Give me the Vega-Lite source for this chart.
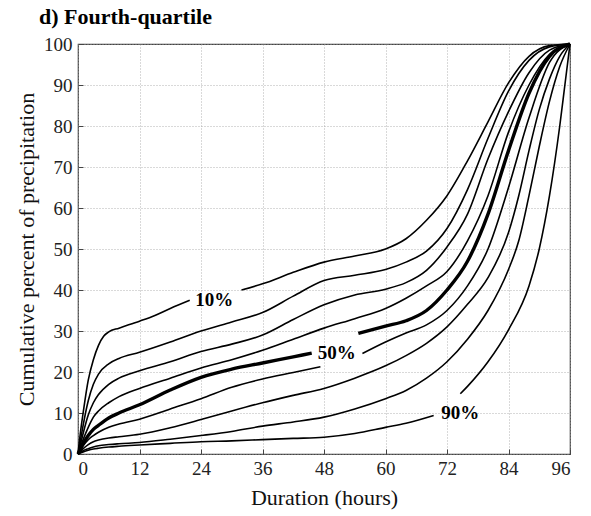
{
  "$schema": "https://vega.github.io/schema/vega-lite/v6.json",
  "width": 492,
  "height": 410,
  "autosize": {"type": "none"},
  "padding": {"left": 78, "top": 44, "right": 21, "bottom": 62},
  "background": "white",
  "title": {
    "text": "d) Fourth-quartile",
    "anchor": "start",
    "frame": "group",
    "dx": -39,
    "offset": 6,
    "font": "Liberation Serif",
    "fontSize": 22,
    "fontWeight": "bold",
    "color": "black"
  },
  "config": {
    "view": {"stroke": "#444", "strokeWidth": 1.2},
    "axis": {
      "domain": false,
      "labelFont": "Liberation Serif",
      "labelFontSize": 19,
      "labelColor": "#222",
      "titleFont": "Liberation Serif",
      "titleFontSize": 22,
      "titleFontWeight": "normal",
      "titleColor": "#111",
      "tickColor": "#444",
      "tickSize": -5,
      "gridColor": "#a0a0a0",
      "gridDash": [1, 2],
      "gridWidth": 0.8
    }
  },
  "datasets": {
    "curves": [
      {"curve": "10%", "seg": "10a", "h": 0, "v": 0},
      {"curve": "10%", "seg": "10a", "h": 0.5, "v": 5.5},
      {"curve": "10%", "seg": "10a", "h": 1, "v": 10},
      {"curve": "10%", "seg": "10a", "h": 2, "v": 18},
      {"curve": "10%", "seg": "10a", "h": 3, "v": 23},
      {"curve": "10%", "seg": "10a", "h": 4, "v": 26.5},
      {"curve": "10%", "seg": "10a", "h": 5, "v": 28.7},
      {"curve": "10%", "seg": "10a", "h": 6, "v": 29.8},
      {"curve": "10%", "seg": "10a", "h": 8, "v": 30.7},
      {"curve": "10%", "seg": "10a", "h": 12, "v": 32.4},
      {"curve": "10%", "seg": "10a", "h": 15, "v": 33.8},
      {"curve": "10%", "seg": "10a", "h": 18, "v": 35.5},
      {"curve": "10%", "seg": "10a", "h": 21.8, "v": 37.5},
      {"curve": "10%", "seg": "10b", "h": 31.9, "v": 40},
      {"curve": "10%", "seg": "10b", "h": 36, "v": 41.5},
      {"curve": "10%", "seg": "10b", "h": 42, "v": 44.3},
      {"curve": "10%", "seg": "10b", "h": 48, "v": 46.8},
      {"curve": "10%", "seg": "10b", "h": 54, "v": 48.3},
      {"curve": "10%", "seg": "10b", "h": 60, "v": 50},
      {"curve": "10%", "seg": "10b", "h": 64, "v": 52.5},
      {"curve": "10%", "seg": "10b", "h": 68, "v": 57},
      {"curve": "10%", "seg": "10b", "h": 72, "v": 63},
      {"curve": "10%", "seg": "10b", "h": 76, "v": 71.5},
      {"curve": "10%", "seg": "10b", "h": 80, "v": 81},
      {"curve": "10%", "seg": "10b", "h": 84, "v": 90.5},
      {"curve": "10%", "seg": "10b", "h": 88, "v": 97},
      {"curve": "10%", "seg": "10b", "h": 92, "v": 99.6},
      {"curve": "10%", "seg": "10b", "h": 96, "v": 100},

      {"curve": "20%", "seg": "20a", "h": 0, "v": 0},
      {"curve": "20%", "seg": "20a", "h": 0.5, "v": 3.5},
      {"curve": "20%", "seg": "20a", "h": 1, "v": 7},
      {"curve": "20%", "seg": "20a", "h": 2, "v": 13},
      {"curve": "20%", "seg": "20a", "h": 3, "v": 17},
      {"curve": "20%", "seg": "20a", "h": 4, "v": 19.5},
      {"curve": "20%", "seg": "20a", "h": 6, "v": 22},
      {"curve": "20%", "seg": "20a", "h": 8, "v": 23.3},
      {"curve": "20%", "seg": "20a", "h": 12, "v": 24.8},
      {"curve": "20%", "seg": "20a", "h": 18, "v": 27.3},
      {"curve": "20%", "seg": "20a", "h": 24, "v": 30},
      {"curve": "20%", "seg": "20a", "h": 30, "v": 32.2},
      {"curve": "20%", "seg": "20a", "h": 36, "v": 34.5},
      {"curve": "20%", "seg": "20a", "h": 42, "v": 38.5},
      {"curve": "20%", "seg": "20a", "h": 48, "v": 42.3},
      {"curve": "20%", "seg": "20a", "h": 54, "v": 43.6},
      {"curve": "20%", "seg": "20a", "h": 60, "v": 45},
      {"curve": "20%", "seg": "20a", "h": 64, "v": 46.8},
      {"curve": "20%", "seg": "20a", "h": 68, "v": 49.5},
      {"curve": "20%", "seg": "20a", "h": 72, "v": 55},
      {"curve": "20%", "seg": "20a", "h": 76, "v": 64.5},
      {"curve": "20%", "seg": "20a", "h": 80, "v": 77},
      {"curve": "20%", "seg": "20a", "h": 84, "v": 88.5},
      {"curve": "20%", "seg": "20a", "h": 88, "v": 96},
      {"curve": "20%", "seg": "20a", "h": 92, "v": 99.3},
      {"curve": "20%", "seg": "20a", "h": 96, "v": 100},

      {"curve": "30%", "seg": "30a", "h": 0, "v": 0},
      {"curve": "30%", "seg": "30a", "h": 0.5, "v": 2.5},
      {"curve": "30%", "seg": "30a", "h": 1, "v": 5},
      {"curve": "30%", "seg": "30a", "h": 2, "v": 9.5},
      {"curve": "30%", "seg": "30a", "h": 3, "v": 12.5},
      {"curve": "30%", "seg": "30a", "h": 4, "v": 14.5},
      {"curve": "30%", "seg": "30a", "h": 6, "v": 17},
      {"curve": "30%", "seg": "30a", "h": 8, "v": 18.5},
      {"curve": "30%", "seg": "30a", "h": 12, "v": 20.3},
      {"curve": "30%", "seg": "30a", "h": 18, "v": 22.5},
      {"curve": "30%", "seg": "30a", "h": 24, "v": 25},
      {"curve": "30%", "seg": "30a", "h": 30, "v": 26.8},
      {"curve": "30%", "seg": "30a", "h": 36, "v": 29},
      {"curve": "30%", "seg": "30a", "h": 42, "v": 32.8},
      {"curve": "30%", "seg": "30a", "h": 48, "v": 36.4},
      {"curve": "30%", "seg": "30a", "h": 54, "v": 38.8},
      {"curve": "30%", "seg": "30a", "h": 60, "v": 40.2},
      {"curve": "30%", "seg": "30a", "h": 64, "v": 41.8},
      {"curve": "30%", "seg": "30a", "h": 68, "v": 44.8},
      {"curve": "30%", "seg": "30a", "h": 72, "v": 50.5},
      {"curve": "30%", "seg": "30a", "h": 76, "v": 58.5},
      {"curve": "30%", "seg": "30a", "h": 80, "v": 72},
      {"curve": "30%", "seg": "30a", "h": 84, "v": 83.5},
      {"curve": "30%", "seg": "30a", "h": 88, "v": 93},
      {"curve": "30%", "seg": "30a", "h": 92, "v": 98.5},
      {"curve": "30%", "seg": "30a", "h": 96, "v": 100},

      {"curve": "40%", "seg": "40a", "h": 0, "v": 0},
      {"curve": "40%", "seg": "40a", "h": 0.5, "v": 1.8},
      {"curve": "40%", "seg": "40a", "h": 1, "v": 3.5},
      {"curve": "40%", "seg": "40a", "h": 2, "v": 6.5},
      {"curve": "40%", "seg": "40a", "h": 3, "v": 9},
      {"curve": "40%", "seg": "40a", "h": 4, "v": 10.5},
      {"curve": "40%", "seg": "40a", "h": 6, "v": 12.5},
      {"curve": "40%", "seg": "40a", "h": 8, "v": 14},
      {"curve": "40%", "seg": "40a", "h": 12, "v": 16},
      {"curve": "40%", "seg": "40a", "h": 18, "v": 18.5},
      {"curve": "40%", "seg": "40a", "h": 24, "v": 21},
      {"curve": "40%", "seg": "40a", "h": 30, "v": 23},
      {"curve": "40%", "seg": "40a", "h": 36, "v": 25.3},
      {"curve": "40%", "seg": "40a", "h": 42, "v": 28},
      {"curve": "40%", "seg": "40a", "h": 48, "v": 30.7},
      {"curve": "40%", "seg": "40a", "h": 54, "v": 33},
      {"curve": "40%", "seg": "40a", "h": 60, "v": 35.5},
      {"curve": "40%", "seg": "40a", "h": 64, "v": 38},
      {"curve": "40%", "seg": "40a", "h": 68, "v": 41},
      {"curve": "40%", "seg": "40a", "h": 72, "v": 44.5},
      {"curve": "40%", "seg": "40a", "h": 76, "v": 52},
      {"curve": "40%", "seg": "40a", "h": 80, "v": 63},
      {"curve": "40%", "seg": "40a", "h": 84, "v": 78.5},
      {"curve": "40%", "seg": "40a", "h": 88, "v": 90},
      {"curve": "40%", "seg": "40a", "h": 92, "v": 97.5},
      {"curve": "40%", "seg": "40a", "h": 96, "v": 100},

      {"curve": "50%", "seg": "50a", "h": 0, "v": 0},
      {"curve": "50%", "seg": "50a", "h": 0.5, "v": 1.3},
      {"curve": "50%", "seg": "50a", "h": 1, "v": 2.5},
      {"curve": "50%", "seg": "50a", "h": 2, "v": 4.5},
      {"curve": "50%", "seg": "50a", "h": 3, "v": 6},
      {"curve": "50%", "seg": "50a", "h": 4, "v": 7},
      {"curve": "50%", "seg": "50a", "h": 6, "v": 8.8},
      {"curve": "50%", "seg": "50a", "h": 8, "v": 10},
      {"curve": "50%", "seg": "50a", "h": 12, "v": 12},
      {"curve": "50%", "seg": "50a", "h": 18, "v": 15.6},
      {"curve": "50%", "seg": "50a", "h": 24, "v": 18.7},
      {"curve": "50%", "seg": "50a", "h": 30, "v": 20.7},
      {"curve": "50%", "seg": "50a", "h": 36, "v": 22.2},
      {"curve": "50%", "seg": "50a", "h": 42, "v": 23.7},
      {"curve": "50%", "seg": "50a", "h": 45.6, "v": 24.6},
      {"curve": "50%", "seg": "50b", "h": 54.7, "v": 29.4},
      {"curve": "50%", "seg": "50b", "h": 60, "v": 31.2},
      {"curve": "50%", "seg": "50b", "h": 64, "v": 32.5},
      {"curve": "50%", "seg": "50b", "h": 68, "v": 35},
      {"curve": "50%", "seg": "50b", "h": 72, "v": 40},
      {"curve": "50%", "seg": "50b", "h": 76, "v": 47},
      {"curve": "50%", "seg": "50b", "h": 80, "v": 58.5},
      {"curve": "50%", "seg": "50b", "h": 84, "v": 74},
      {"curve": "50%", "seg": "50b", "h": 88, "v": 88},
      {"curve": "50%", "seg": "50b", "h": 92, "v": 97},
      {"curve": "50%", "seg": "50b", "h": 96, "v": 100},

      {"curve": "60%", "seg": "60a", "h": 0, "v": 0},
      {"curve": "60%", "seg": "60a", "h": 0.5, "v": 1},
      {"curve": "60%", "seg": "60a", "h": 1, "v": 2},
      {"curve": "60%", "seg": "60a", "h": 2, "v": 3.5},
      {"curve": "60%", "seg": "60a", "h": 3, "v": 4.5},
      {"curve": "60%", "seg": "60a", "h": 4, "v": 5.3},
      {"curve": "60%", "seg": "60a", "h": 6, "v": 6.5},
      {"curve": "60%", "seg": "60a", "h": 8, "v": 7.3},
      {"curve": "60%", "seg": "60a", "h": 12, "v": 8.5},
      {"curve": "60%", "seg": "60a", "h": 18, "v": 11},
      {"curve": "60%", "seg": "60a", "h": 24, "v": 13.5},
      {"curve": "60%", "seg": "60a", "h": 30, "v": 16.3},
      {"curve": "60%", "seg": "60a", "h": 36, "v": 18.3},
      {"curve": "60%", "seg": "60a", "h": 42, "v": 19.9},
      {"curve": "60%", "seg": "60a", "h": 47.3, "v": 21.3},
      {"curve": "60%", "seg": "60b", "h": 55.5, "v": 24.5},
      {"curve": "60%", "seg": "60b", "h": 60, "v": 27.3},
      {"curve": "60%", "seg": "60b", "h": 64, "v": 29.5},
      {"curve": "60%", "seg": "60b", "h": 68, "v": 31.5},
      {"curve": "60%", "seg": "60b", "h": 72, "v": 35},
      {"curve": "60%", "seg": "60b", "h": 76, "v": 41},
      {"curve": "60%", "seg": "60b", "h": 80, "v": 50},
      {"curve": "60%", "seg": "60b", "h": 84, "v": 65},
      {"curve": "60%", "seg": "60b", "h": 88, "v": 82},
      {"curve": "60%", "seg": "60b", "h": 92, "v": 95.5},
      {"curve": "60%", "seg": "60b", "h": 96, "v": 100},

      {"curve": "70%", "seg": "70a", "h": 0, "v": 0},
      {"curve": "70%", "seg": "70a", "h": 0.5, "v": 0.7},
      {"curve": "70%", "seg": "70a", "h": 1, "v": 1.3},
      {"curve": "70%", "seg": "70a", "h": 2, "v": 2.3},
      {"curve": "70%", "seg": "70a", "h": 3, "v": 3},
      {"curve": "70%", "seg": "70a", "h": 4, "v": 3.4},
      {"curve": "70%", "seg": "70a", "h": 6, "v": 3.9},
      {"curve": "70%", "seg": "70a", "h": 8, "v": 4.2},
      {"curve": "70%", "seg": "70a", "h": 12, "v": 4.8},
      {"curve": "70%", "seg": "70a", "h": 18, "v": 6.4},
      {"curve": "70%", "seg": "70a", "h": 24, "v": 8.4},
      {"curve": "70%", "seg": "70a", "h": 30, "v": 10.5},
      {"curve": "70%", "seg": "70a", "h": 36, "v": 12.5},
      {"curve": "70%", "seg": "70a", "h": 42, "v": 14.3},
      {"curve": "70%", "seg": "70a", "h": 48, "v": 16},
      {"curve": "70%", "seg": "70a", "h": 54, "v": 18.5},
      {"curve": "70%", "seg": "70a", "h": 60, "v": 21.5},
      {"curve": "70%", "seg": "70a", "h": 64, "v": 24},
      {"curve": "70%", "seg": "70a", "h": 68, "v": 27},
      {"curve": "70%", "seg": "70a", "h": 72, "v": 31},
      {"curve": "70%", "seg": "70a", "h": 76, "v": 36.5},
      {"curve": "70%", "seg": "70a", "h": 80, "v": 43},
      {"curve": "70%", "seg": "70a", "h": 84, "v": 54},
      {"curve": "70%", "seg": "70a", "h": 86, "v": 63},
      {"curve": "70%", "seg": "70a", "h": 88, "v": 74},
      {"curve": "70%", "seg": "70a", "h": 90, "v": 84},
      {"curve": "70%", "seg": "70a", "h": 92, "v": 91.5},
      {"curve": "70%", "seg": "70a", "h": 94, "v": 97},
      {"curve": "70%", "seg": "70a", "h": 96, "v": 100},

      {"curve": "80%", "seg": "80a", "h": 0, "v": 0},
      {"curve": "80%", "seg": "80a", "h": 0.5, "v": 0.4},
      {"curve": "80%", "seg": "80a", "h": 1, "v": 0.8},
      {"curve": "80%", "seg": "80a", "h": 2, "v": 1.3},
      {"curve": "80%", "seg": "80a", "h": 3, "v": 1.7},
      {"curve": "80%", "seg": "80a", "h": 4, "v": 2},
      {"curve": "80%", "seg": "80a", "h": 6, "v": 2.3},
      {"curve": "80%", "seg": "80a", "h": 8, "v": 2.5},
      {"curve": "80%", "seg": "80a", "h": 12, "v": 2.8},
      {"curve": "80%", "seg": "80a", "h": 18, "v": 3.6},
      {"curve": "80%", "seg": "80a", "h": 24, "v": 4.5},
      {"curve": "80%", "seg": "80a", "h": 30, "v": 5.5},
      {"curve": "80%", "seg": "80a", "h": 36, "v": 6.8},
      {"curve": "80%", "seg": "80a", "h": 42, "v": 7.8},
      {"curve": "80%", "seg": "80a", "h": 48, "v": 9},
      {"curve": "80%", "seg": "80a", "h": 54, "v": 11},
      {"curve": "80%", "seg": "80a", "h": 60, "v": 13.5},
      {"curve": "80%", "seg": "80a", "h": 64, "v": 15.5},
      {"curve": "80%", "seg": "80a", "h": 68, "v": 18.5},
      {"curve": "80%", "seg": "80a", "h": 72, "v": 22.5},
      {"curve": "80%", "seg": "80a", "h": 76, "v": 28},
      {"curve": "80%", "seg": "80a", "h": 80, "v": 35},
      {"curve": "80%", "seg": "80a", "h": 84, "v": 45},
      {"curve": "80%", "seg": "80a", "h": 86, "v": 52},
      {"curve": "80%", "seg": "80a", "h": 88, "v": 63},
      {"curve": "80%", "seg": "80a", "h": 90, "v": 75},
      {"curve": "80%", "seg": "80a", "h": 92, "v": 86},
      {"curve": "80%", "seg": "80a", "h": 94, "v": 94.5},
      {"curve": "80%", "seg": "80a", "h": 96, "v": 100},

      {"curve": "90%", "seg": "90a", "h": 0, "v": 0},
      {"curve": "90%", "seg": "90a", "h": 1, "v": 0.5},
      {"curve": "90%", "seg": "90a", "h": 2, "v": 0.9},
      {"curve": "90%", "seg": "90a", "h": 3, "v": 1.2},
      {"curve": "90%", "seg": "90a", "h": 4, "v": 1.4},
      {"curve": "90%", "seg": "90a", "h": 6, "v": 1.7},
      {"curve": "90%", "seg": "90a", "h": 8, "v": 1.9},
      {"curve": "90%", "seg": "90a", "h": 12, "v": 2.2},
      {"curve": "90%", "seg": "90a", "h": 18, "v": 2.6},
      {"curve": "90%", "seg": "90a", "h": 24, "v": 3},
      {"curve": "90%", "seg": "90a", "h": 30, "v": 3.2},
      {"curve": "90%", "seg": "90a", "h": 36, "v": 3.5},
      {"curve": "90%", "seg": "90a", "h": 42, "v": 3.8},
      {"curve": "90%", "seg": "90a", "h": 48, "v": 4.1},
      {"curve": "90%", "seg": "90a", "h": 54, "v": 5},
      {"curve": "90%", "seg": "90a", "h": 60, "v": 6.5},
      {"curve": "90%", "seg": "90a", "h": 64, "v": 7.5},
      {"curve": "90%", "seg": "90a", "h": 69.4, "v": 9.4},
      {"curve": "90%", "seg": "90b", "h": 74.6, "v": 14.7},
      {"curve": "90%", "seg": "90b", "h": 76, "v": 16.5},
      {"curve": "90%", "seg": "90b", "h": 80, "v": 22.5},
      {"curve": "90%", "seg": "90b", "h": 84, "v": 30.3},
      {"curve": "90%", "seg": "90b", "h": 88, "v": 41},
      {"curve": "90%", "seg": "90b", "h": 90, "v": 50},
      {"curve": "90%", "seg": "90b", "h": 92, "v": 63},
      {"curve": "90%", "seg": "90b", "h": 94, "v": 80},
      {"curve": "90%", "seg": "90b", "h": 95, "v": 90},
      {"curve": "90%", "seg": "90b", "h": 96, "v": 100}
    ],
    "labels": [
      {"label": "10%", "h": 26.6, "v": 37.6},
      {"label": "50%", "h": 50.5, "v": 24.7},
      {"label": "90%", "h": 74.6, "v": 10.1}
    ]
  },
  "layer": [
    {
      "data": {"name": "curves"},
      "transform": [{"filter": "datum.curve !== '50%'"}],
      "mark": {"type": "line", "interpolate": "monotone", "color": "black", "strokeWidth": 1.6},
      "encoding": {
        "x": {
          "field": "h", "type": "quantitative",
          "scale": {"domain": [0, 96], "nice": false},
          "axis": {"values": [0, 12, 24, 36, 48, 60, 72, 84, 96], "title": "Duration (hours)", "labelPadding": 10, "titlePadding": 9, "grid": true}
        },
        "y": {
          "field": "v", "type": "quantitative",
          "scale": {"domain": [0, 100], "nice": false},
          "axis": {"values": [0, 10, 20, 30, 40, 50, 60, 70, 80, 90, 100], "title": "Cumulative percent of precipitation", "labelPadding": 11, "titlePadding": 5, "grid": true}
        },
        "detail": {"field": "seg"},
        "order": {"field": "h", "type": "quantitative"}
      }
    },
    {
      "data": {"name": "curves"},
      "transform": [{"filter": "datum.curve === '50%'"}],
      "mark": {"type": "line", "interpolate": "monotone", "color": "black", "strokeWidth": 3.4},
      "encoding": {
        "x": {"field": "h", "type": "quantitative"},
        "y": {"field": "v", "type": "quantitative"},
        "detail": {"field": "seg"},
        "order": {"field": "h", "type": "quantitative"}
      }
    },
    {
      "data": {"name": "labels"},
      "mark": {"type": "text", "font": "Liberation Serif", "fontSize": 19, "fontWeight": "bold", "color": "black", "baseline": "middle", "align": "center"},
      "encoding": {
        "x": {"field": "h", "type": "quantitative"},
        "y": {"field": "v", "type": "quantitative"},
        "text": {"field": "label"}
      }
    }
  ]
}
